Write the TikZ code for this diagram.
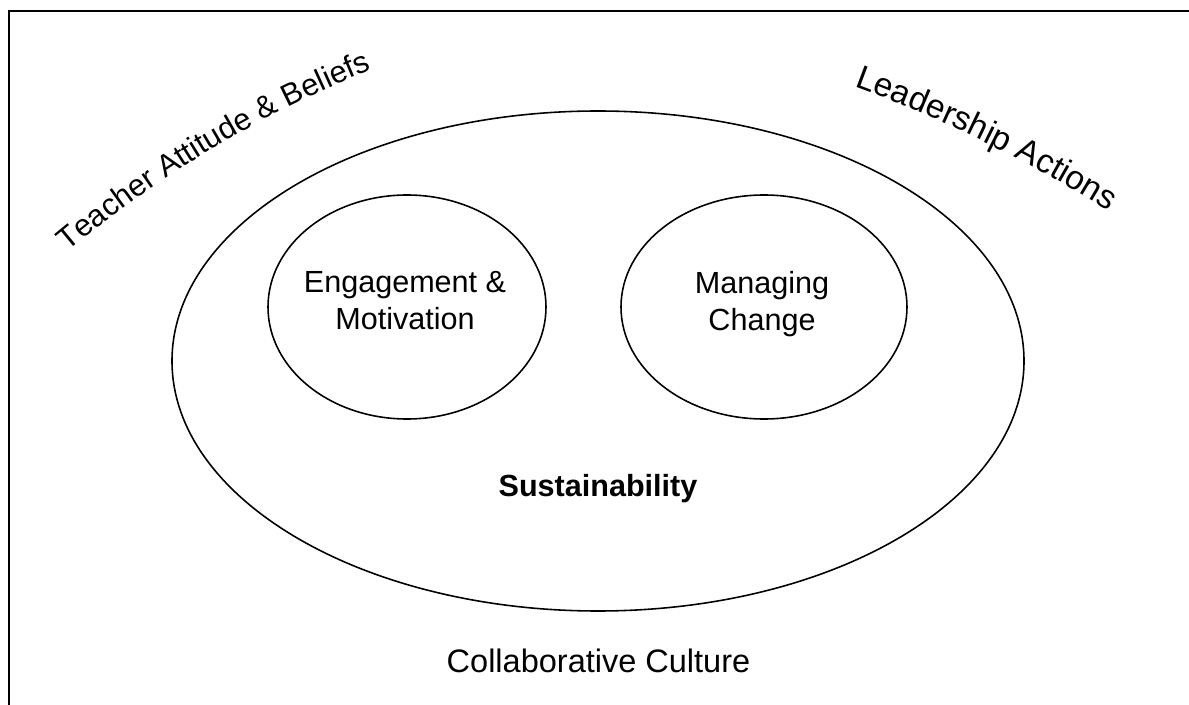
\documentclass[tikz,border=0pt]{standalone}
\usepackage{fontspec}
\setmainfont{Liberation Sans}
\usetikzlibrary{shapes.geometric,decorations.text}

\begin{document}
\begin{tikzpicture}[
    bubble/.style={draw, ellipse, line width=0.9pt, inner sep=0pt},
    caption/.style={inner sep=0pt, align=center, font=\fontsize{17.4}{20.9}\selectfont},
  ]
                    \useasboundingbox (0,0) rectangle (23.78,14.08);

                    % frame, cut off at right and bottom
                    \coordinate (FrameB) at (0.18,-0.2);
                    \coordinate (FrameC) at (0.18,13.86);
                    \coordinate (FrameR) at (24.0,13.86);
                    \draw[line width=1.2pt] (FrameB) -- (FrameC) -- (FrameR);

                    \node [bubble, minimum width=17.04cm, minimum height=10cm] (Sus) at (11.96,6.86) {};
                    \node [bubble, minimum width=5.56cm, minimum height=4.48cm] (Eng) at (8.14,7.94) {};
                    \node [bubble, minimum width=5.72cm, minimum height=4.48cm] (Chg) at (15.28,7.94) {};

                    \node [caption, anchor=north] (EngT) at (8.10,8.66) {Engagement \&\\Motivation};
                    \node [caption, anchor=north] (ChgT) at (15.24,8.66) {Managing\\Change};
                    \node [caption, anchor=base, font=\bfseries\fontsize{17.4}{20.9}\selectfont] (SusT) at (11.96,4.14) {Sustainability};
                    \node [caption, anchor=base, font=\fontsize{18.5}{22}\selectfont] (CulT) at (11.97,0.64) {Collaborative Culture};

                    % curved labels
                    \coordinate (TeachO) at (15.892,-8.34);
                    \coordinate (LeadO) at (7.658,-13.334);
                    \path [decorate, decoration={text along path, text align=center,
                        text={|\fontsize{17.5}{21}\selectfont|Teacher Attitude {\&} Beliefs}}]
                        ([shift={(134:22.66)}]TeachO) arc [start angle=134, end angle=107.8, radius=22.66];
                    \path [decorate, decoration={text along path, text align=center,
                        text={|\fontsize{19}{23}\selectfont|Leadership Actions}}]
                        ([shift={(72:27.36)}]LeadO) arc [start angle=72, end angle=55.8, radius=27.36];

\end{tikzpicture}
\end{document}
